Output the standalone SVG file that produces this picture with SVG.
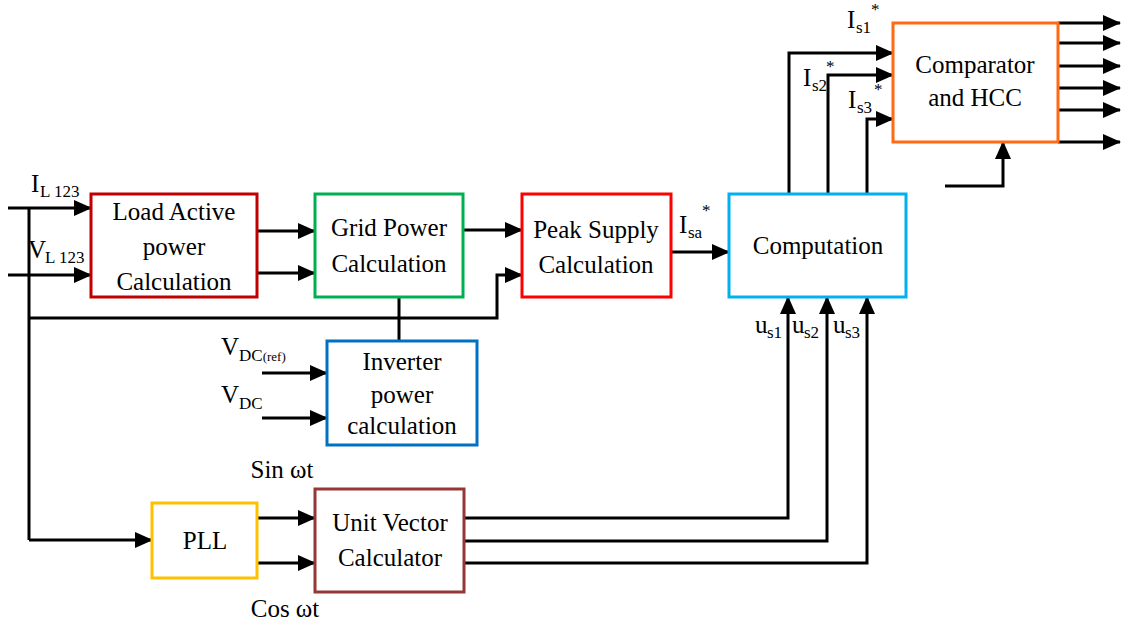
<svg xmlns="http://www.w3.org/2000/svg" width="1121" height="625" viewBox="0 0 1121 625">
<defs>
<marker id="ah" markerUnits="userSpaceOnUse" markerWidth="18" markerHeight="16" refX="17" refY="8" orient="auto">
<path d="M0,0 L18,8 L0,16 Z" fill="#000"/>
</marker>
<style>
.box{fill:#fff;stroke-width:3}
text{font-family:'Liberation Serif','Times New Roman','DejaVu Serif',serif;fill:#000}
.t{font-size:25px;text-anchor:middle}
.l{font-size:25px}
.s{font-size:17px}
.w{fill:none;stroke:#000;stroke-width:3}
.a{fill:none;stroke:#000;stroke-width:3;marker-end:url(#ah)}
</style>
</defs>
<rect width="1121" height="625" fill="#fff"/>
<g id="connectors">
<path class="a" d="M8,208 H91"/>
<path class="a" d="M8,275 H91"/>
<path class="w" d="M29,208 V540"/>
<path class="a" d="M29,540 H152"/>
<path class="a" d="M29,318 H497 V275 H522"/>
<path class="a" d="M257,231 H315"/>
<path class="a" d="M257,273 H315"/>
<path class="a" d="M463,230 H522"/>
<path class="a" d="M671,252 H729"/>
<path class="w" d="M399,341 V297"/>
<path class="a" d="M262,373 H327"/>
<path class="a" d="M262,418 H327"/>
<path class="a" d="M257,518 H315"/>
<path class="a" d="M257,563 H315"/>
<path class="a" d="M464,518 H788 V297"/>
<path class="a" d="M464,541 H827 V297"/>
<path class="a" d="M464,563 H867 V297"/>
<path class="a" d="M789,194 V53 H893"/>
<path class="a" d="M828,194 V75 H893"/>
<path class="a" d="M867,194 V119 H893"/>
<path class="a" d="M945,186 H1003 V142"/>
<path class="a" d="M1058,23 H1120"/>
<path class="a" d="M1058,43 H1120"/>
<path class="a" d="M1058,66 H1120"/>
<path class="a" d="M1058,88 H1120"/>
<path class="a" d="M1058,110 H1120"/>
<path class="a" d="M1058,142 H1120"/>
</g>
<g id="load">
<rect class="box" x="91" y="194" width="166" height="103" stroke="#c00000"/>
<text class="t" x="174" y="220">Load Active</text>
<text class="t" x="174" y="255">power</text>
<text class="t" x="174" y="290">Calculation</text>
</g>
<g id="grid">
<rect class="box" x="315" y="194" width="148" height="103" stroke="#00b050"/>
<text class="t" x="389" y="236">Grid Power</text>
<text class="t" x="389" y="272">Calculation</text>
</g>
<g id="peak">
<rect class="box" x="522" y="194" width="149" height="103" stroke="#ff0000"/>
<text class="t" x="596" y="238">Peak Supply</text>
<text class="t" x="596" y="273">Calculation</text>
</g>
<g id="computation">
<rect class="box" x="729" y="194" width="177" height="103" stroke="#00b0f0"/>
<text class="t" x="818" y="254">Computation</text>
</g>
<g id="comparator">
<rect class="box" x="893" y="23" width="165" height="119" stroke="#ff6a13"/>
<text class="t" x="975" y="73">Comparator</text>
<text class="t" x="975" y="106">and HCC</text>
</g>
<g id="inverter">
<rect class="box" x="327" y="341" width="150" height="104" stroke="#0070c0"/>
<text class="t" x="402" y="370">Inverter</text>
<text class="t" x="402" y="403">power</text>
<text class="t" x="402" y="434">calculation</text>
</g>
<g id="pll">
<rect class="box" x="152" y="503" width="105" height="75" stroke="#ffc000"/>
<text class="t" x="205" y="549">PLL</text>
</g>
<g id="unitvector">
<rect class="box" x="315" y="489" width="149" height="103" stroke="#953735"/>
<text class="t" x="390" y="531">Unit Vector</text>
<text class="t" x="390" y="566">Calculator</text>
</g>
<g id="labels">
<text class="l" x="31" y="192">I</text><text class="s" x="40" y="197">L 123</text>
<text class="l" x="28" y="258">V</text><text class="s" x="45" y="263">L 123</text>
<text class="l" x="679" y="233">I</text><text class="s" x="688" y="238">sa</text><text class="s" x="702" y="216">*</text>
<text class="l" x="847" y="28">I</text><text class="s" x="856" y="33">s1</text><text class="s" x="871" y="15">*</text>
<text class="l" x="803" y="86">I</text><text class="s" x="812" y="91">s2</text><text class="s" x="826" y="72">*</text>
<text class="l" x="848" y="108">I</text><text class="s" x="857" y="113">s3</text><text class="s" x="874" y="95">*</text>
<text class="l" x="221" y="355">V</text><text class="s" x="239" y="361">DC<tspan font-size="13">(ref)</tspan></text>
<text class="l" x="221" y="403">V</text><text class="s" x="239" y="409">DC</text>
<text class="l" x="755" y="333">u</text><text class="s" x="767" y="338">s1</text>
<text class="l" x="792" y="333">u</text><text class="s" x="804" y="338">s2</text>
<text class="l" x="833" y="333">u</text><text class="s" x="845" y="338">s3</text>
<text class="t" x="282" y="478">Sin ωt</text>
<text class="t" x="285" y="617">Cos ωt</text>
</g>
</svg>
